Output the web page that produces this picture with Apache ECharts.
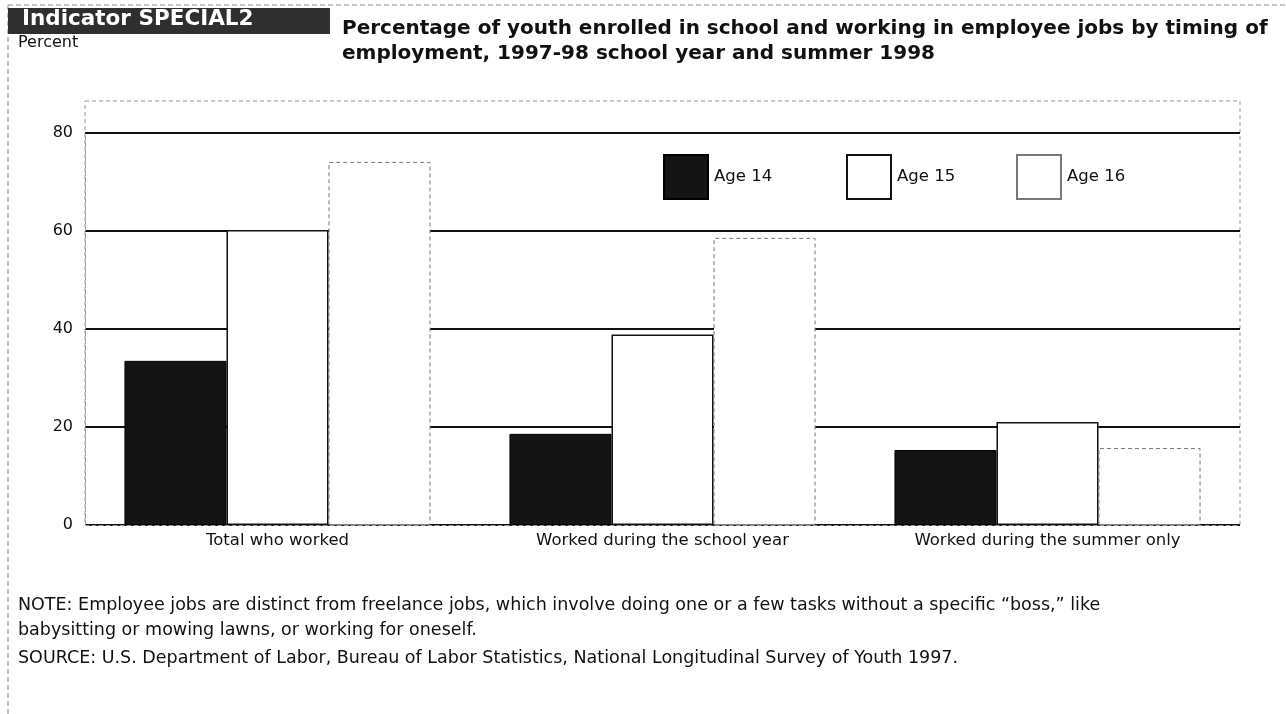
<!DOCTYPE html>
<html>
<head>
<meta charset="utf-8">
<title>Youth employment by timing</title>
<script src="https://cdn.jsdelivr.net/npm/echarts@6/dist/echarts.min.js"></script>
<style>
  html, body { margin: 0; padding: 0; background: #fff; }
  #chart { width: 1286px; height: 714px; }
</style>
</head>
<body>
<div id="chart"></div>
<script>
// Categories and series values (percent)
const categories = ['Total who worked', 'Worked during the school year', 'Worked during the summer only'];
const age14 = [33.5, 18.6, 15.3];
const age15 = [60.2, 38.9, 21.0];
const age16 = [74.1, 58.6, 15.7];
const yTicks = [0, 20, 40, 60, 80];

const FONT = '"DejaVu Sans", "Open Sans", sans-serif';

const chart = echarts.init(document.getElementById('chart'), null, { renderer: 'canvas' });

// one legend block per series so each swatch sits at its own spot
const legendText = { fontFamily: FONT, fontSize: 16.5, color: '#111', padding: [0, 0, 0, 1] };
function legendAt(name, left) {
  return {
    left: left, top: 149,
    icon: 'rect',
    itemWidth: 44, itemHeight: 44,
    textStyle: legendText,
    data: [name]
  };
}

chart.setOption({
  backgroundColor: '#fff',
  animation: false,
  textStyle: { fontFamily: FONT, color: '#111' },
  grid: { left: 85, right: 46, top: 133, bottom: 189, containLabel: false },
  legend: [
    legendAt('Age 14', 658),
    legendAt('Age 15', 841),
    legendAt('Age 16', 1011)
  ],
  xAxis: {
    type: 'category',
    data: categories,
    axisLine: { show: true, lineStyle: { color: '#999', width: 1, type: [4, 3] } },
    axisTick: { show: false },
    axisLabel: { fontFamily: FONT, fontSize: 16.5, color: '#111', margin: 7, interval: 0 }
  },
  yAxis: {
    type: 'value',
    min: yTicks[0], max: yTicks[yTicks.length - 1], interval: 20,
    axisLine: { show: true, lineStyle: { color: '#999', width: 1, type: [4, 3] } },
    axisTick: { show: false },
    axisLabel: { fontFamily: FONT, fontSize: 16, color: '#111', margin: 12 },
    splitLine: {
      show: true,
      lineStyle: { color: '#111', width: 2 }
    }
  },
  series: [
    {
      name: 'Age 14', type: 'bar', data: age14,
      barGap: '0%', barCategoryGap: '20.5%',
      itemStyle: { color: '#141414', borderColor: '#000', borderWidth: 1 }
    },
    {
      name: 'Age 15', type: 'bar', data: age15,
      barGap: '0%', barCategoryGap: '20.5%',
      itemStyle: { color: '#fff', borderColor: '#111', borderWidth: 1.5 }
    },
    {
      name: 'Age 16', type: 'bar', data: age16,
      barGap: '0%', barCategoryGap: '20.5%',
      itemStyle: { color: '#fff', borderColor: '#777', borderWidth: 1, borderType: [4, 3] }
    }
  ],
  graphic: [
    // page frame (top and left dashed rules)
    { type: 'line', z: -1, shape: { x1: 8, y1: 5, x2: 1286, y2: 5 },
      style: { stroke: '#888', lineWidth: 1, lineDash: [5, 3] } },
    { type: 'line', z: -1, shape: { x1: 8, y1: 5, x2: 8, y2: 714 },
      style: { stroke: '#888', lineWidth: 1, lineDash: [5, 3] } },
    // dashed outline around the plot
    { type: 'rect', z: -1, shape: { x: 85, y: 101, width: 1155, height: 424 },
      style: { fill: null, stroke: '#999', lineWidth: 1, lineDash: [4, 3] } },
    // indicator badge
    { type: 'rect', shape: { x: 8, y: 8, width: 322, height: 26 },
      style: { fill: '#2f2f2f' } },
    { type: 'text', left: 22, top: 8,
      style: { text: 'Indicator SPECIAL2', fill: '#fff', font: 'bold 21.5px ' + FONT } },
    { type: 'text', left: 18, top: 35,
      style: { text: 'Percent', fill: '#111', font: '16px ' + FONT } },
    // title
    { type: 'text', left: 342, top: 16,
      style: { text: 'Percentage of youth enrolled in school and working in employee jobs by timing of\nemployment, 1997-98 school year and summer 1998',
               fill: '#111', font: 'bold 20px ' + FONT, lineHeight: 25 } },
    // notes
    { type: 'text', left: 18, top: 593,
      style: { text: 'NOTE: Employee jobs are distinct from freelance jobs, which involve doing one or a few tasks without a specific \u201cboss,\u201d like\nbabysitting or mowing lawns, or working for oneself.',
               fill: '#111', font: '17.5px ' + FONT, lineHeight: 25 } },
    { type: 'text', left: 18, top: 649,
      style: { text: 'SOURCE: U.S. Department of Labor, Bureau of Labor Statistics, National Longitudinal Survey of Youth 1997.',
               fill: '#111', font: '17.5px ' + FONT } }
  ]
});
</script>
</body>
</html>
